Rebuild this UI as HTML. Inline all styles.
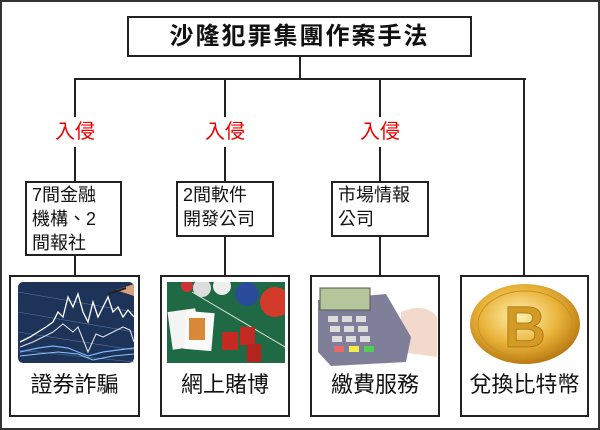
<!DOCTYPE html>
<html><head><meta charset="utf-8"><style>
*{margin:0;padding:0;box-sizing:border-box}
body{width:600px;height:430px;background:#fff;position:relative;overflow:hidden;font-family:"Liberation Sans","Noto Sans CJK TC",sans-serif;color:#111}
.a{position:absolute}
.box{position:absolute;border:2px solid #222;background:#fff}
.ln{position:absolute;background:#222}
.red{position:absolute;color:#e00;font-size:20px;line-height:20px;width:60px;text-align:center}
.t{font-size:18px;line-height:24px;padding-left:5px;padding-top:0px;white-space:nowrap}
.cap{position:absolute;left:0;right:0;top:96px;text-align:center;font-size:22px;line-height:24px}
</style></head><body>
<div class="a" style="left:0;top:0;width:600px;height:430px;border:2px solid #333"></div>
<div class="box" style="left:127px;top:16px;width:345px;height:41px;text-align:center;font-size:24px;font-weight:bold;line-height:37px;letter-spacing:2px">沙隆犯罪集團作案手法</div>
<div class="ln" style="left:299px;top:57px;width:2px;height:23px"></div>
<div class="ln" style="left:74px;top:78px;width:452px;height:2px"></div>
<div class="ln" style="left:74px;top:78px;width:2px;height:39px"></div>
<div class="ln" style="left:74px;top:147px;width:2px;height:34px"></div>
<div class="ln" style="left:224px;top:78px;width:2px;height:39px"></div>
<div class="ln" style="left:224px;top:147px;width:2px;height:34px"></div>
<div class="ln" style="left:379px;top:78px;width:2px;height:39px"></div>
<div class="ln" style="left:379px;top:147px;width:2px;height:34px"></div>
<div class="ln" style="left:523px;top:78px;width:2px;height:198px"></div>
<div class="red" style="left:45px;top:122px">入侵</div>
<div class="red" style="left:195px;top:122px">入侵</div>
<div class="red" style="left:350px;top:122px">入侵</div>
<div class="box t" style="left:25px;top:181px;width:97px;height:75px">7間金融<br>機構、2<br>間報社</div>
<div class="box t" style="left:176px;top:181px;width:98px;height:56px">2間軟件<br>開發公司</div>
<div class="box t" style="left:331px;top:181px;width:98px;height:56px">市場情報<br>公司</div>
<div class="ln" style="left:74px;top:256px;width:2px;height:20px"></div>
<div class="ln" style="left:224px;top:237px;width:2px;height:39px"></div>
<div class="ln" style="left:379px;top:237px;width:2px;height:39px"></div>

<div class="box" style="left:9px;top:275px;width:131px;height:142px">
<svg class="a" style="left:7px;top:5px" width="116" height="81" viewBox="0 0 116 81">
<rect width="116" height="81" rx="5" fill="#1d3357"/>
<g stroke="#5a78a8" stroke-width="0.6" fill="none"><path d="M0 10L116 30M0 30L116 50M0 50L116 68M0 68L116 80"/></g>
<path d="M2 60L12 55L20 50L28 45L35 40L40 30L45 35L50 15L55 25L60 12L65 30L70 40L75 20L80 35L85 25L90 15L95 30L100 25L105 35L110 28L116 35" stroke="#fff" stroke-width="1.3" fill="none"/>
<path d="M2 65L15 60L25 55L35 50L45 42L55 50L60 45L70 70L78 52L85 55L95 50L105 45L112 48L116 60" stroke="#dde" stroke-width="1.1" fill="none"/>
<path d="M2 70L20 66L35 64L50 66L60 70L70 74L85 70L100 68L116 66" stroke="#7ab3ff" stroke-width="1.2" fill="none"/>
<path d="M2 74L20 72L40 70L60 72L75 78L95 74L116 72" stroke="#8fc4ff" stroke-width="1" fill="none"/>
<path d="M98 8L116 2L116 14Z" fill="#d9a07a"/><path d="M90 12L108 6" stroke="#222" stroke-width="2"/>
</svg>
<div class="cap">證券詐騙</div></div>

<div class="box" style="left:160px;top:275px;width:130px;height:142px">
<svg class="a" style="left:5px;top:5px" width="118" height="81" viewBox="0 0 118 81">
<rect width="118" height="81" fill="#1f6a45"/>
<path d="M25 10L118 65" stroke="#ddd" stroke-width="1"/>
<circle cx="35" cy="6" r="9" fill="#ddd"/><circle cx="55" cy="4" r="9" fill="#eee"/>
<circle cx="80" cy="12" r="12" fill="#2a4c9a"/><circle cx="108" cy="20" r="15" fill="#d43a2a"/>
<circle cx="20" cy="4" r="6" fill="#c33"/>
<rect x="3" y="28" width="28" height="38" fill="#f4f4f4" transform="rotate(-8 17 47)"/>
<rect x="18" y="30" width="28" height="38" fill="#fafafa" transform="rotate(5 32 49)"/>
<rect x="22" y="36" width="16" height="22" fill="#d88a3a"/>
<rect x="55" y="50" width="16" height="18" fill="#c42a22"/><rect x="73" y="45" width="15" height="18" fill="#c42a22"/><rect x="80" y="62" width="14" height="18" fill="#b3241e"/>
</svg>
<div class="cap">網上賭博</div></div>

<div class="box" style="left:310px;top:275px;width:130px;height:142px">
<svg class="a" style="left:4px;top:5px" width="121" height="84" viewBox="0 0 121 84">
<rect width="121" height="84" fill="#fff"/>
<path d="M85 30Q110 20 121 35L121 75L85 70Z" fill="#f3d9cc"/>
<path d="M2 18L70 12L95 55L90 80L15 84L2 70Z" fill="#7f7f9a"/>
<rect x="4" y="6" width="50" height="22" fill="#b5c79a" stroke="#555"/>
<g fill="#ddd"><rect x="12" y="34" width="10" height="6"/><rect x="26" y="34" width="10" height="6"/><rect x="40" y="34" width="10" height="6"/>
<rect x="14" y="44" width="10" height="6"/><rect x="28" y="44" width="10" height="6"/><rect x="42" y="44" width="10" height="6"/>
<rect x="16" y="54" width="10" height="6"/><rect x="30" y="54" width="10" height="6"/><rect x="44" y="54" width="10" height="6"/></g>
<rect x="18" y="64" width="10" height="6" fill="#e66"/><rect x="33" y="64" width="10" height="6" fill="#ee4"/><rect x="48" y="64" width="10" height="6" fill="#5c5"/>
</svg>
<div class="cap">繳費服務</div></div>

<div class="box" style="left:460px;top:275px;width:129px;height:142px">
<svg class="a" style="left:6px;top:4px" width="114" height="84" viewBox="0 0 114 84">
<defs><radialGradient id="g" cx="45%" cy="40%" r="60%"><stop offset="0" stop-color="#fff1b0"/><stop offset="0.6" stop-color="#e9b33a"/><stop offset="1" stop-color="#b97a12"/></radialGradient></defs>
<ellipse cx="57" cy="43" rx="55" ry="40" fill="url(#g)"/>
<ellipse cx="57" cy="43" rx="47" ry="33" fill="none" stroke="#c8901e" stroke-width="1"/>
<text x="57" y="66" text-anchor="middle" font-family="Liberation Sans" font-weight="bold" font-size="58" fill="#d39a25" stroke="#a8720c" stroke-width="0.8">B</text>
</svg>
<div class="cap">兌換比特幣</div></div>
</body></html>
